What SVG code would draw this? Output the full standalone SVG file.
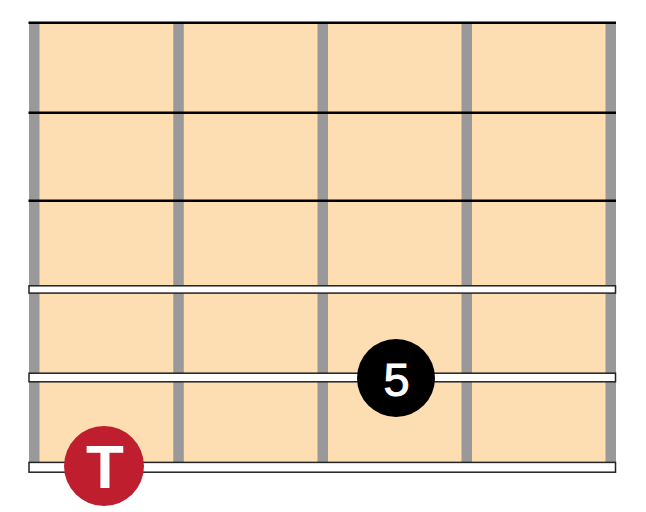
<svg xmlns="http://www.w3.org/2000/svg" width="646" height="512" viewBox="0 0 646 512">
<style>
.board{fill:#FCDEB2}
.fret{fill:#999999}
.wire{stroke:#000;stroke-width:2.5}
.str{fill:#fff;stroke:#222;stroke-width:1.5}
.lbl{font-family:"Liberation Sans",Arial,sans-serif;fill:#fff;text-anchor:middle}
</style>
<rect class="board" x="29" y="23" width="587" height="444"/>
<g id="frets">
<rect class="fret" x="29" y="23" width="10.5" height="444"/>
<rect class="fret" x="173.3" y="23" width="10.5" height="444"/>
<rect class="fret" x="317.5" y="23" width="10.5" height="444"/>
<rect class="fret" x="461.5" y="23" width="10.5" height="444"/>
<rect class="fret" x="605.5" y="23" width="10.5" height="444"/>
</g>
<g id="connectors">
<line class="wire" x1="28.5" y1="22.7" x2="616" y2="22.7"/>
<line class="wire" x1="28.5" y1="112.7" x2="616" y2="112.7"/>
<line class="wire" x1="28.5" y1="200.8" x2="616" y2="200.8"/>
<rect class="str" x="29" y="285.8" width="586.5" height="7.3"/>
<rect class="str" x="29" y="373.2" width="586.5" height="8.6"/>
<rect class="str" x="29" y="462.4" width="586.5" height="9.8"/>
</g>
<g id="node-5">
<circle cx="396" cy="378" r="39" fill="#000"/>
<text class="lbl" x="396.5" y="396" font-size="47" stroke="#fff" stroke-width="1">5</text>
</g>
<g id="node-T">
<circle cx="104" cy="466" r="40" fill="#BE1E2D"/>
<text class="lbl" x="105" y="488" font-size="62" font-weight="bold">T</text>
</g>
</svg>
